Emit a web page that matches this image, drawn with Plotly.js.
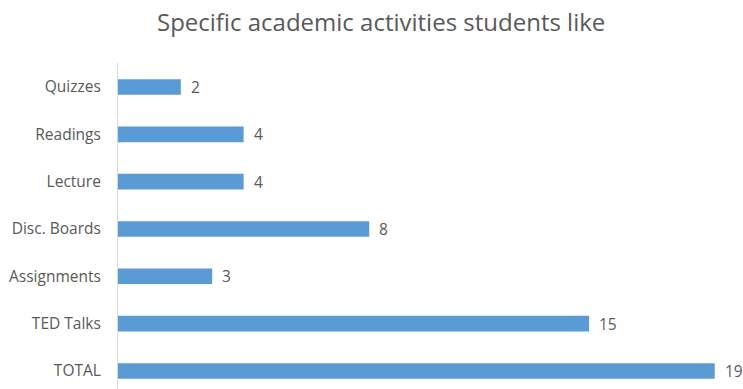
<!DOCTYPE html>
<html><head><meta charset="utf-8">
<script src="https://cdn.plot.ly/plotly-3.0.1.min.js"></script>
<style>html,body{margin:0;padding:0;background:#fff}#chart{width:743px;height:389px}</style>
</head><body><div id="chart"></div>
<script>
const categories = ["TOTAL", "TED Talks", "Assignments", "Disc. Boards", "Lecture", "Readings", "Quizzes"];
const values = [19, 15, 3, 8, 4, 4, 2];
const titleText = "Specific academic activities students like";

const font = "Open Sans, Liberation Sans, sans-serif";
const trace = {
  type: "bar", orientation: "h",
  x: values, y: categories,
  marker: {color: "#5B9BD5"},
  width: 0.33,
  hoverinfo: "none"
};
const annotations = categories.map((c, i) => ({
  x: values[i], y: c, xref: "x", yref: "y",
  text: String(values[i]), showarrow: false,
  xanchor: "left", xshift: 8,
  font: {family: font, size: 15.5, color: "#595959"}
}));
const layout = {
  width: 743, height: 389,
  margin: {l: 118, r: 0, t: 63, b: 0},
  paper_bgcolor: "#fff", plot_bgcolor: "#fff",
  title: {text: titleText, x: 0.513, xref: "container", xanchor: "center", y: 0.943, yref: "container", yanchor: "middle",
          font: {family: font, size: 24, color: "#595959"}},
  xaxis: {range: [0, 19.9], visible: false, fixedrange: true},
  yaxis: {type: "category", categoryorder: "array", categoryarray: categories,
          range: [-0.381, 6.507], showgrid: false, zeroline: false,
          showline: true, linecolor: "#d9d9d9", linewidth: 1,
          ticks: "outside", ticklen: 13, tickcolor: "rgba(0,0,0,0)",
          tickfont: {family: font, size: 15.5, color: "#595959"}},
  annotations: annotations,
  showlegend: false
};
Plotly.newPlot("chart", [trace], layout, {staticPlot: true});
</script></body></html>
